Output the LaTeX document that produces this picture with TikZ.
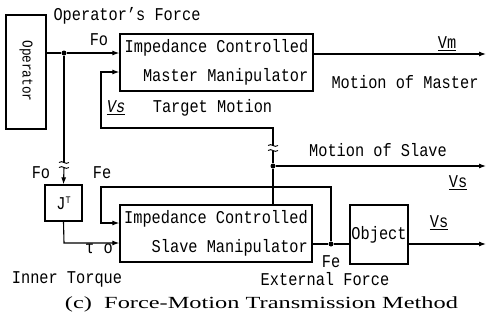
\documentclass[tikz,border=0pt]{standalone}
\usepackage{fontspec}
\setmainfont{Liberation Serif}
\newfontfamily\tw[FakeStretch=0.85]{Liberation Mono}
\usetikzlibrary{arrows.meta}
\begin{document}
\begin{tikzpicture}[x=1pt,y=-1pt, line width=1.1pt,
  blk/.style={draw, line width=1.3pt, inner sep=0pt, font=\tw\fontsize{18}{20}\selectfont},
  lbl/.style={font=\tw\fontsize{18}{20}\selectfont, inner sep=0pt},
  arr/.style={-{Latex[length=7pt,width=5pt]}},
  jdot/.style={circle, fill, inner sep=0pt, minimum size=5pt},
  brk/.style={line width=0.9pt}]
\useasboundingbox (0,0) rectangle (487,322);
% blocks
\node[blk, minimum width=40pt, minimum height=114pt] (operator) at (26,72) {};
\node[lbl, rotate=-90, font=\tw\fontsize{15}{17}\selectfont] (optext) at (26,71) {Operator};
\node[blk, minimum width=193pt, minimum height=57pt, align=right] (master) at (216.5,62.5) {Impedance Controlled\\[9pt]Master Manipulator};
\node[blk, minimum width=192pt, minimum height=57pt, align=right] (slave) at (216,233.5) {Impedance Controlled\\[9pt]Slave Manipulator};
\node[blk, minimum width=37pt, minimum height=36pt] (jt) at (63.5,203) {J\raisebox{6pt}{\fontsize{10}{10}\selectfont T}};
\node[blk, minimum width=58pt, minimum height=59pt] (object) at (379,234.5) {Object};
% junctions
\node[jdot] (d1) at (64,53) {};
\node[jdot] (d2) at (273,166) {};
\node[jdot] (d3) at (331,244) {};
% coordinates
\coordinate (x1a) at (64,162.5);
\coordinate (x1b) at (64,167.5);
\coordinate (x2a) at (273,145.5);
\coordinate (x2b) at (273,150.5);
\coordinate (fb1) at (101,72);
\coordinate (fb2) at (101,128);
\coordinate (fb3) at (273,128);
\coordinate (fe1) at (331,187);
\coordinate (fe2) at (101,187);
\coordinate (fe3) at (101,223);
\coordinate (jo) at (64,243);
\coordinate (vmE) at (486,54);
\coordinate (vsE) at (486,166);
\coordinate (obE) at (486,244);
% connectors
\draw (operator.east |- d1) -- (d1);
\draw[arr] (d1) -- (d1 -| master.west);
\draw (d1) -- (x1a);
\draw[arr] (x1b) -- (jt.north);
\draw[brk] ([xshift=-5pt]x1a) .. controls +(4,-3) and +(-4,3) .. ([xshift=5pt]x1a);
\draw[brk] ([xshift=-5pt]x1b) .. controls +(4,-3) and +(-4,3) .. ([xshift=5pt]x1b);
\draw[arr] (jt.south) -- (jo) -- (jo -| slave.west);
\draw[arr] (vmE -| master.east) -- (vmE);
\draw (slave.north -| d2) -- (d2) -- (x2b);
\draw[brk] ([xshift=-5pt]x2a) .. controls +(4,-3) and +(-4,3) .. ([xshift=5pt]x2a);
\draw[brk] ([xshift=-5pt]x2b) .. controls +(4,-3) and +(-4,3) .. ([xshift=5pt]x2b);
\draw[arr] (x2a) -- (fb3) -- (fb2) -- (fb1) -- (fb1 -| master.west);
\draw[arr] (d2) -- (vsE);
\draw (slave.east |- d3) -- (d3) -- (d3 -| object.west);
\draw[arr] (d3) -- (fe1) -- (fe2) -- (fe3) -- (fe3 -| slave.west);
\draw[arr] (object.east |- d3) -- (obE);
% labels
\node[lbl] (l1) at (127,16) {Operator’s Force};
\node[lbl] (l2) at (99,40) {Fo};
\node[lbl] (l3) at (447,44) {\underline{Vm}};
\node[lbl] (l4) at (405,82) {Motion of Master};
\node[lbl] (l5) at (116,108) {\textit{\underline{Vs}}};
\node[lbl] (l6) at (212.5,108) {Target Motion};
\node[lbl] (l7) at (378,150) {Motion of Slave};
\node[lbl] (l8) at (458,183) {\underline{Vs}};
\node[lbl] (l9) at (439,223) {\underline{Vs}};
\node[lbl] (l10) at (41,173) {Fo};
\node[lbl] (l11) at (102,173) {Fe};
\node[lbl] (l12) at (99,249) {τ o};
\node[lbl] (l13) at (67,279) {Inner Torque};
\node[lbl] (l14) at (331,262) {Fe};
\node[lbl] (l15) at (325,279) {External Force};
\node[inner sep=0pt] (cap) at (261.5,304) {\resizebox{393pt}{\height}{\fontsize{17}{19}\selectfont (c)\ \ Force-Motion Transmission Method}};
\end{tikzpicture}
\end{document}
